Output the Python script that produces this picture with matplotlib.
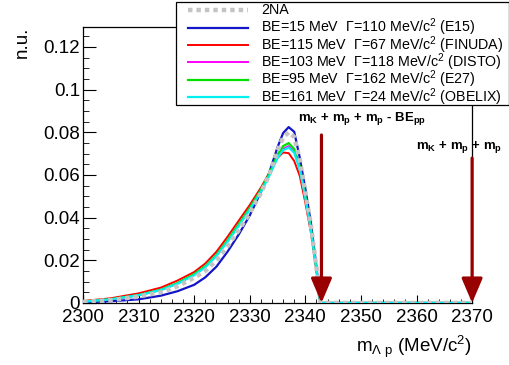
import numpy as np
import matplotlib
matplotlib.use("Agg")
import matplotlib.pyplot as plt
from matplotlib.ticker import MultipleLocator
from matplotlib.patches import Rectangle
from matplotlib.lines import Line2D

plt.rcParams['font.family'] = ['Liberation Sans', 'DejaVu Sans']
plt.rcParams['mathtext.fontset'] = 'custom'
plt.rcParams['mathtext.rm'] = 'Liberation Sans'
plt.rcParams['mathtext.it'] = 'Liberation Sans:italic'
plt.rcParams['mathtext.bf'] = 'Liberation Sans:bold'

# invariant mass grid (MeV/c^2)
m_lp = [2300, 2305, 2310, 2314, 2317, 2320, 2322, 2324, 2326, 2328, 2330, 2332,
        2333.5, 2335, 2336, 2337, 2338, 2339, 2340, 2341, 2342, 2342.7,
        2350, 2360, 2370]

two_na = [0.0005, 0.0013, 0.0030, 0.0050, 0.0078, 0.0118, 0.0150, 0.0200, 0.0265,
          0.0340, 0.0420, 0.0515, 0.0600, 0.0715, 0.0775, 0.0800, 0.0778, 0.0670,
          0.0520, 0.0365, 0.0165, 0, 0, 0, 0]
e15 = [0.0003, 0.0008, 0.0017, 0.0034, 0.0055, 0.0085, 0.0120, 0.0170, 0.0240,
       0.0320, 0.0410, 0.0520, 0.0610, 0.0730, 0.0796, 0.0824, 0.0802, 0.0680,
       0.0535, 0.0375, 0.0170, 0, 0, 0, 0]
finuda = [0.0009, 0.0022, 0.0045, 0.0072, 0.0105, 0.0145, 0.0185, 0.0240, 0.0310,
          0.0385, 0.0459, 0.0540, 0.0608, 0.0680, 0.0705, 0.0702, 0.0665, 0.0595,
          0.0470, 0.0330, 0.0150, 0, 0, 0, 0]
disto = [0.0006, 0.0017, 0.0036, 0.0061, 0.0091, 0.0132, 0.0169, 0.0222, 0.0290,
         0.0364, 0.0440, 0.0525, 0.0600, 0.0685, 0.0722, 0.0735, 0.0710, 0.0630,
         0.0495, 0.0345, 0.0156, 0, 0, 0, 0]
e27 = [0.0006, 0.0018, 0.0037, 0.0062, 0.0093, 0.0135, 0.0172, 0.0225, 0.0293,
       0.0368, 0.0445, 0.0530, 0.0605, 0.0695, 0.0735, 0.0749, 0.0722, 0.0640,
       0.0500, 0.0350, 0.0158, 0, 0, 0, 0]
obelix = [0.0006, 0.0017, 0.0036, 0.0060, 0.0090, 0.0130, 0.0167, 0.0220, 0.0287,
          0.0360, 0.0437, 0.0520, 0.0595, 0.0680, 0.0716, 0.0728, 0.0704, 0.0625,
          0.0492, 0.0342, 0.0155, 0, 0, 0, 0]

labels = ['2NA',
          r'BE=15 MeV  $\Gamma$=110 MeV/c$^2$ (E15)',
          r'BE=115 MeV  $\Gamma$=67 MeV/c$^2$ (FINUDA)',
          r'BE=103 MeV  $\Gamma$=118 MeV/c$^2$ (DISTO)',
          r'BE=95 MeV  $\Gamma$=162 MeV/c$^2$ (E27)',
          r'BE=161 MeV  $\Gamma$=24 MeV/c$^2$ (OBELIX)']

# thresholds marked with arrows
thr_bound = 2342.9
thr_free = 2370.0

gray_style = dict(color='#c4c4c4', lw=3.2, ls=(0, (1.0, 0.9)))
line_styles = [gray_style,
               dict(color='#1414c8', lw=1.6),
               dict(color='#ff0000', lw=1.4),
               dict(color='#ff00ff', lw=1.4),
               dict(color='#00e000', lw=1.6),
               dict(color='#00f0f0', lw=1.6)]

fig = plt.figure(figsize=(5.1, 3.65), dpi=100)
ax = fig.add_axes([0.1627, 0.170, 0.763, 0.756])

series = [two_na, e15, finuda, disto, e27, obelix]
for i, (vals, st) in enumerate(zip(series, line_styles)):
    ax.plot(m_lp, vals, zorder=4 if i == 0 else 3, **st)

# arrows
arrow_kw = dict(arrowstyle='-|>,head_length=0.75,head_width=0.32',
                color='#990000', lw=2.3, mutation_scale=20,
                shrinkA=0, shrinkB=0)
ax.annotate('', xy=(thr_bound, 0), xytext=(thr_bound, 0.0787),
            arrowprops=arrow_kw, zorder=6, annotation_clip=False)
ax.annotate('', xy=(thr_free, 0), xytext=(thr_free, 0.0679),
            arrowprops=arrow_kw, zorder=6, annotation_clip=False)
ax.text(2350.2, 0.0862,
        r'm$_{\mathbf{K}}$ + m$_{\mathbf{p}}$ + m$_{\mathbf{p}}$ - BE$_{\mathbf{pp}}$',
        fontsize=9.5, fontweight='bold', ha='center', va='center')
ax.text(2367.7, 0.0731, r'm$_{\mathbf{K}}$ + m$_{\mathbf{p}}$ + m$_{\mathbf{p}}$',
        fontsize=9.5, fontweight='bold', ha='center', va='center',
        clip_on=False, zorder=7)

ax.set_xlim(2300, 2370)
ax.set_ylim(0, 0.1293)
ax.xaxis.set_major_locator(MultipleLocator(10))
ax.xaxis.set_minor_locator(MultipleLocator(2))
ax.yaxis.set_minor_locator(MultipleLocator(0.005))
ax.set_yticks([0, 0.02, 0.04, 0.06, 0.08, 0.1, 0.12])
ax.set_yticklabels(['0', '0.02', '0.04', '0.06', '0.08', '0.1', '0.12'])
ax.tick_params(which='both', direction='in', top=False, right=False,
               labelsize=13.5)
ax.tick_params(axis='y', which='major', length=9, pad=2)
ax.tick_params(axis='y', which='minor', length=4.5)
ax.tick_params(axis='x', which='major', length=6, pad=4)
ax.tick_params(axis='x', which='minor', length=3)
for s in ax.spines.values():
    s.set_linewidth(0.9)

ax.set_xlabel(r'm$_{\Lambda\ \mathrm{p}}$ (MeV/c$^2$)', fontsize=13.5,
              loc='right', labelpad=6)
ax.set_ylabel('n.u.', fontsize=13.5, loc='top', labelpad=9)

# legend box drawn in figure pixel coordinates
lax = fig.add_axes([0, 0, 1, 1], zorder=10)
lax.set_xlim(0, 510)
lax.set_ylim(365, 0)
lax.axis('off')
lax.add_patch(Rectangle((176, 2), 333, 103, facecolor='white',
                        edgecolor='black', lw=0.9))
row_y = [10, 27.5, 45, 62, 79.5, 97]
for y, st, lab in zip(row_y, line_styles, labels):
    lax.add_line(Line2D([188, 248], [y, y], **st))
    lax.text(261, y, lab, fontsize=10.3, ha='left', va='center')

fig.savefig('out.png', dpi=100)
